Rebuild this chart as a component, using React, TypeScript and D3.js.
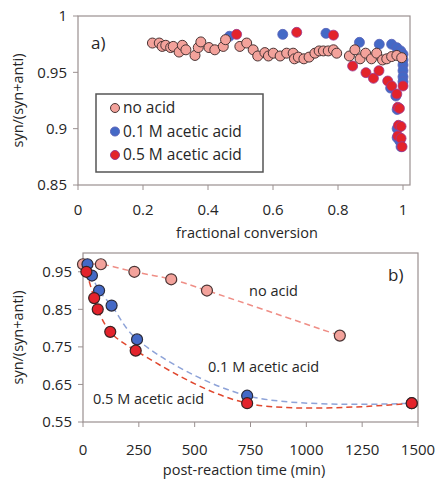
import React from 'react';
import * as d3 from 'd3';

// ---- panel a: selectivity vs fractional conversion ----
const noAcidA: [number, number][] = [
  [0.229, 0.976], [0.25, 0.976], [0.259, 0.973], [0.27, 0.974], [0.285, 0.972],
  [0.293, 0.973], [0.311, 0.968], [0.321, 0.974], [0.332, 0.97], [0.36, 0.965],
  [0.37, 0.972], [0.378, 0.977], [0.403, 0.972], [0.421, 0.97], [0.447, 0.973],
  [0.454, 0.979], [0.498, 0.973], [0.519, 0.976], [0.539, 0.97], [0.553, 0.9645],
  [0.575, 0.9675], [0.586, 0.9645], [0.601, 0.967], [0.622, 0.9645], [0.642, 0.967],
  [0.662, 0.967], [0.666, 0.962], [0.678, 0.9635], [0.695, 0.962], [0.711, 0.9635],
  [0.729, 0.967], [0.742, 0.969], [0.755, 0.969], [0.77, 0.969], [0.786, 0.97],
  [0.796, 0.967], [0.835, 0.9645], [0.852, 0.97], [0.868, 0.962], [0.885, 0.967],
  [0.903, 0.962], [0.919, 0.967], [0.937, 0.961], [0.95, 0.962], [0.965, 0.964],
  [0.981, 0.965], [0.996, 0.963],
];
const acid01A: [number, number][] = [
  [0.466, 0.982], [0.63, 0.9837], [0.763, 0.9846], [0.866, 0.9766], [0.927, 0.9749],
  [0.965, 0.9749], [0.981, 0.9719], [0.993, 0.969], [1.0, 0.966], [1.0, 0.961],
  [1.0, 0.9565], [1.0, 0.9515], [1.0, 0.946], [1.0, 0.9417],
  [0.962, 0.936], [0.978, 0.929], [0.982, 0.917], [0.982, 0.9], [0.982, 0.892],
  [0.99, 0.889], [0.994, 0.884],
];
const acid05A: [number, number][] = [
  [0.488, 0.9837], [0.673, 0.9855], [0.786, 0.983], [0.845, 0.9556], [0.886, 0.9497],
  [0.909, 0.9447], [0.926, 0.9515], [0.953, 0.9423], [0.965, 0.9379], [0.981, 0.9308],
  [0.984, 0.919], [0.989, 0.918], [0.986, 0.903], [0.994, 0.902], [0.984, 0.8935],
  [0.994, 0.8914], [0.997, 0.884], [1.0, 0.9379],
];
const xTicksA = [0, 0.2, 0.4, 0.6, 0.8, 1];
const yTicksA = [0.85, 0.9, 0.95, 1];
const legendLabels = ['no acid', '0.1 M acetic acid', '0.5 M acetic acid'];

// ---- panel b: selectivity vs post-reaction time ----
const noAcidB: [number, number][] = [
  [0, 0.97], [80, 0.97], [230, 0.95], [395, 0.93], [555, 0.9], [1150, 0.78],
];
const acid01B: [number, number][] = [
  [20, 0.97], [40, 0.94], [72, 0.9], [128, 0.86], [242, 0.77], [735, 0.62], [1472, 0.6],
];
const acid05B: [number, number][] = [
  [15, 0.95], [50, 0.88], [66, 0.85], [122, 0.79], [236, 0.74], [735, 0.6], [1472, 0.6],
];
const xTicksB = [0, 250, 500, 750, 1000, 1250, 1500];
const yTicksB = [0.55, 0.65, 0.75, 0.85, 0.95];

const FONT = '"Open Sans", "Noto Sans", sans-serif';
const PINK = '#f3a29b';
const BLUE = '#4469c6';
const RED = '#e3232b';
const AXIS = '#9a9090';
const TEXT = '#262626';

const App = () => {
  // panel a scales
  const xa = d3.scaleLinear().domain([0, 1.02]).range([78, 409.5]);
  const ya = d3.scaleLinear().domain([0.85, 1]).range([185, 16]);
  // panel b scales
  const xb = d3.scaleLinear().domain([0, 1500]).range([83, 418]);
  const yb = d3.scaleLinear().domain([0.55, 1.0]).range([422, 253]);

  const lineB = d3
    .line<[number, number]>()
    .x((d) => xb(d[0]))
    .y((d) => yb(d[1]))
    .curve(d3.curveCatmullRom.alpha(0.5));

  const box = (x0: number, x1: number, y0: number, y1: number) => (
    <rect x={x0} y={y1} width={x1 - x0} height={y0 - y1} fill="none" stroke={AXIS} strokeWidth={1.2} />
  );

  const legendStyles = [
    { fill: PINK, stroke: '#4a3434' },
    { fill: BLUE, stroke: '#5a62b8' },
    { fill: RED, stroke: '#9a3a90' },
  ];

  return (
    <svg
      width={437}
      height={483}
      style={{ position: 'absolute', left: 0, top: 0, background: '#fff' }}
      fontFamily={FONT}
    >
      <rect width={437} height={483} fill="#fff" />

      {/* ===== panel a ===== */}
      {box(xa(0), 410, ya(0.85), ya(1))}
      {yTicksA.map((t) => (
        <g key={'ya' + t}>
          <line x1={xa(0) - 5} x2={xa(0)} y1={ya(t)} y2={ya(t)} stroke={AXIS} />
          <text x={67} y={ya(t)} dy="0.35em" textAnchor="end" fontSize={15} fill={TEXT}>
            {t}
          </text>
        </g>
      ))}
      {xTicksA.map((t) => (
        <g key={'xa' + t}>
          <line x1={xa(t)} x2={xa(t)} y1={ya(0.85)} y2={ya(0.85) + 5} stroke={AXIS} />
          <text x={xa(t)} y={210} dy="0.35em" textAnchor="middle" fontSize={15} fill={TEXT}>
            {t}
          </text>
        </g>
      ))}
      <text x={247} y={238} textAnchor="middle" fontSize={14.5} fill={TEXT}>
        fractional conversion
      </text>
      <text
        transform={`translate(23,${(ya(0.85) + ya(1)) / 2}) rotate(-90)`}
        textAnchor="middle"
        fontSize={14.5}
        fill={TEXT}
      >
        syn/(syn+anti)
      </text>
      <text x={91} y={49} fontSize={17} fill={TEXT}>
        a)
      </text>

      {acid01A.map((d, i) => (
        <circle key={'ba' + i} cx={xa(d[0])} cy={ya(d[1])} r={5} fill={BLUE} stroke="#5a62b8" strokeWidth={0.8} />
      ))}
      {acid05A.map((d, i) => (
        <circle key={'ra' + i} cx={xa(d[0])} cy={ya(d[1])} r={5} fill={RED} stroke="#9a3a90" strokeWidth={0.8} />
      ))}
      {noAcidA.map((d, i) => (
        <circle key={'pa' + i} cx={xa(d[0])} cy={ya(d[1])} r={5} fill={PINK} stroke="#4a3434" strokeWidth={1} />
      ))}

      {/* legend */}
      <rect x={96} y={94} width={167} height={78} fill="#fff" stroke="#555" strokeWidth={1.5} />
      {legendLabels.map((label, i) => (
        <g key={label} transform={`translate(115,${108 + i * 23.5})`}>
          <circle r={4.5} fill={legendStyles[i].fill} stroke={legendStyles[i].stroke} strokeWidth={1} />
          <text x={8} dy="0.35em" fontSize={15.5} fill={TEXT}>
            {label}
          </text>
        </g>
      ))}

      {/* ===== panel b ===== */}
      {box(xb(0), xb(1500), yb(0.55), yb(1.0))}
      {yTicksB.map((t) => (
        <g key={'yb' + t}>
          <line x1={xb(0) - 5} x2={xb(0)} y1={yb(t)} y2={yb(t)} stroke={AXIS} />
          <text x={72} y={yb(t)} dy="0.35em" textAnchor="end" fontSize={15} fill={TEXT}>
            {t.toFixed(2)}
          </text>
        </g>
      ))}
      {xTicksB.map((t) => (
        <g key={'xb' + t}>
          <line x1={xb(t)} x2={xb(t)} y1={yb(0.55)} y2={yb(0.55) + 5} stroke={AXIS} />
          <text x={xb(t)} y={450} dy="0.35em" textAnchor="middle" fontSize={15} fill={TEXT}>
            {t}
          </text>
        </g>
      ))}
      <text x={244} y={475} textAnchor="middle" fontSize={14.5} fill={TEXT}>
        post-reaction time (min)
      </text>
      <text
        transform={`translate(23,${(yb(0.55) + yb(1.0)) / 2}) rotate(-90)`}
        textAnchor="middle"
        fontSize={14.5}
        fill={TEXT}
      >
        syn/(syn+anti)
      </text>
      <text x={388} y={281} fontSize={17} fill={TEXT}>
        b)
      </text>

      <path d={lineB(noAcidB) ?? ''} fill="none" stroke="#ef8e86" strokeWidth={1.5} strokeDasharray="6,4" />
      <path d={lineB(acid01B) ?? ''} fill="none" stroke="#8ea3d8" strokeWidth={1.5} strokeDasharray="6,4" />
      <path d={lineB(acid05B) ?? ''} fill="none" stroke="#e0482f" strokeWidth={1.5} strokeDasharray="6,4" />

      {noAcidB.map((d, i) => (
        <circle key={'pb' + i} cx={xb(d[0])} cy={yb(d[1])} r={5.5} fill={PINK} stroke="#4a3434" strokeWidth={1.2} />
      ))}
      {acid01B.map((d, i) => (
        <circle key={'bb' + i} cx={xb(d[0])} cy={yb(d[1])} r={5.5} fill={BLUE} stroke="#2a2a3a" strokeWidth={1.2} />
      ))}
      {acid05B.map((d, i) => (
        <circle key={'rb' + i} cx={xb(d[0])} cy={yb(d[1])} r={5.5} fill={RED} stroke="#3a2222" strokeWidth={1.2} />
      ))}

      <text x={249} y={291} dy="0.35em" fontSize={14.5} fill={TEXT}>
        no acid
      </text>
      <text x={208} y={367} dy="0.35em" fontSize={14.5} fill={TEXT}>
        0.1 M acetic acid
      </text>
      <text x={93} y={399} dy="0.35em" fontSize={14.5} fill={TEXT}>
        0.5 M acetic acid
      </text>
    </svg>
  );
};

export default App;
